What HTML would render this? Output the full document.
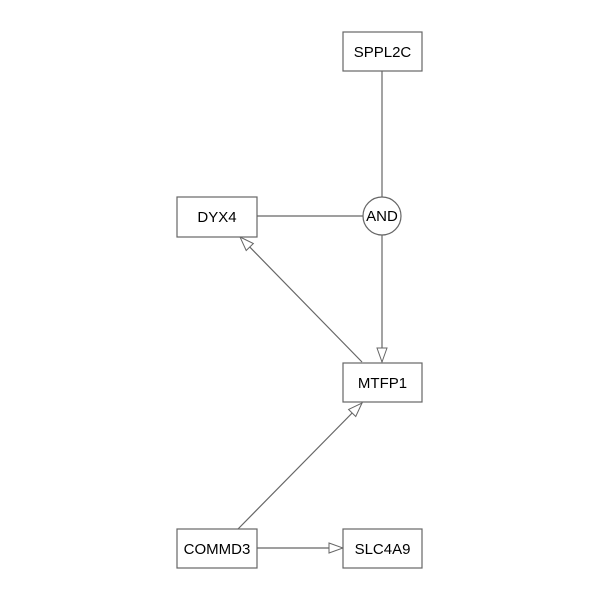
<!DOCTYPE html>
<html><head><style>body{margin:0;background:#fff}</style></head><body>
<svg width="600" height="600" xmlns="http://www.w3.org/2000/svg" font-family="Liberation Sans, sans-serif" font-size="15">
<defs>
<marker id="a" markerWidth="16" markerHeight="12" refX="15" refY="6" orient="auto" markerUnits="userSpaceOnUse">
<path d="M1,1 L15,6 L1,11 Z" fill="#fff" stroke="#666" stroke-width="1"/>
</marker>
</defs>
<g stroke="#666" stroke-width="1.2" fill="none">
<line x1="382" y1="70" x2="382" y2="197"/>
<line x1="257" y1="216" x2="363" y2="216"/>
<line x1="382" y1="235" x2="382" y2="362" marker-end="url(#a)"/>
<line x1="362" y1="362" x2="240" y2="237" marker-end="url(#a)"/>
<line x1="238" y1="529" x2="362" y2="403" marker-end="url(#a)"/>
<line x1="257" y1="548" x2="343" y2="548" marker-end="url(#a)"/>
</g>
<g stroke="#666" stroke-width="1.2" fill="#fff">
<rect x="343" y="32" width="79" height="39"/>
<rect x="177" y="197" width="80" height="40"/>
<circle cx="382" cy="216" r="19"/>
<rect x="343" y="363" width="79" height="39"/>
<rect x="177" y="529" width="80" height="39"/>
<rect x="343" y="529" width="79" height="39"/>
</g>
<g text-anchor="middle" fill="#000">
<text x="382.5" y="57">SPPL2C</text>
<text x="217" y="222">DYX4</text>
<text x="382" y="221">AND</text>
<text x="382.5" y="388">MTFP1</text>
<text x="217" y="554">COMMD3</text>
<text x="382.5" y="554">SLC4A9</text>
</g>
</svg>
</body></html>
